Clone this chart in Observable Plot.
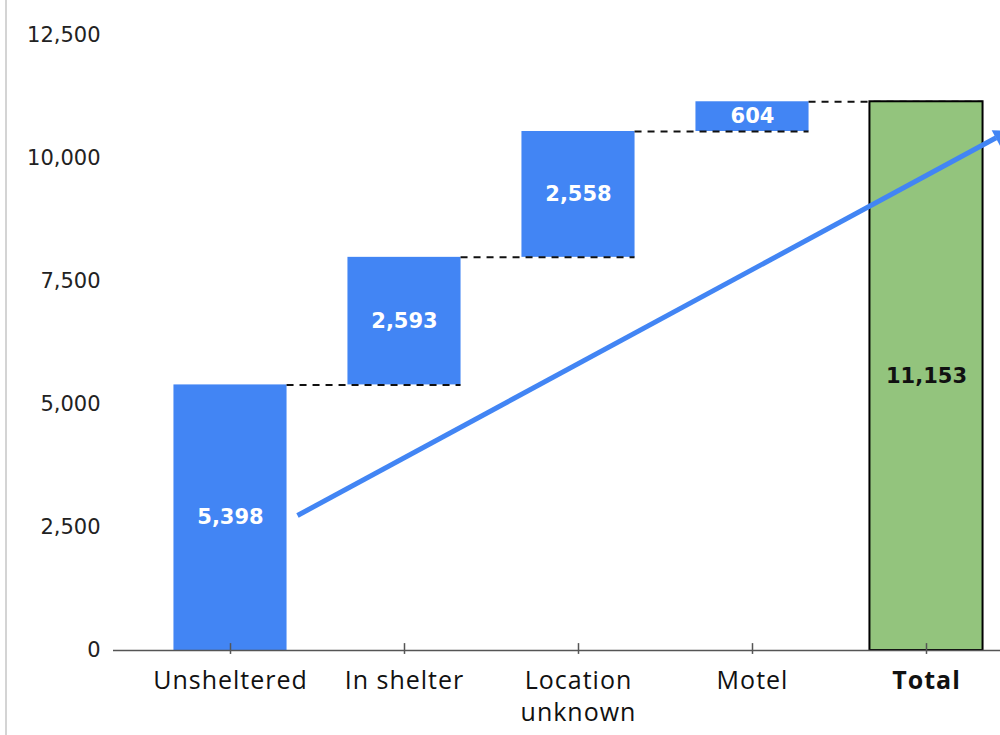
<!DOCTYPE html>
<html><head><meta charset="utf-8">
<script src="https://cdn.jsdelivr.net/npm/d3@7"></script>
<script src="https://cdn.jsdelivr.net/npm/@observablehq/plot@0.6"></script>
<style>
html,body{margin:0;padding:0;background:#fff;overflow:hidden;}
#wrap{position:relative;width:1000px;height:735px;}
#wrap::before{content:"";position:absolute;left:5px;top:0;bottom:0;width:2px;background:#d4d4d4;}
</style></head><body><div id="wrap"></div>
<script>
// Data
const categories = ["Unsheltered", "In shelter", "Location\nunknown", "Motel", "Total"];
const values = [5398, 2593, 2558, 604];
const totalValue = 11153;
const yTicks = [0, 2500, 5000, 7500, 10000, 12500];
// trend arrow annotation (data coordinates: category index, value)
const trendStart = {x: 0.385, y: 2744};
const trendEnd = {x: 4.40, y: 10421};
const trendHead = {x: 4.424, y: 10467};

const fmt = d3.format(",");
let cum = 0;
const steps = values.map((v, i) => {
  const d = {i, cat: categories[i], y1: cum, y2: cum + v, v};
  cum += v;
  return d;
});
const totalRow = {i: 4, cat: categories[4], y1: 0, y2: totalValue, v: totalValue};
const half = 0.325;
const labelRows = categories.map((c, i) => ({i, c}));

const blue = "#4285F4";
const chart = Plot.plot({
  width: 1000,
  height: 735,
  marginLeft: 113,
  marginRight: 0,
  marginTop: 35,
  marginBottom: 85,
  style: {background: "transparent", overflow: "visible"},
  x: {type: "linear", domain: [-0.6724, 4.4253], axis: null},
  y: {domain: [0, 12500], axis: null},
  marks: [
    Plot.axisY({ticks: yTicks, tickSize: 0, tickPadding: 13, tickFormat: fmt,
      fontSize: 21, fontFamily: "DejaVu Sans", fill: "#222", label: null}),
    Plot.rectY(steps, {x1: d => d.i - half, x2: d => d.i + half, y1: "y1", y2: "y2", fill: blue}),
    Plot.ruleY(steps, {y: "y2", x1: d => d.i + half, x2: d => d.i + 1 + half,
      stroke: "#111", strokeWidth: 2, strokeDasharray: "7,6"}),
    Plot.rectY([totalRow], {x1: d => d.i - half, x2: d => d.i + half, y1: "y1", y2: "y2",
      fill: "#93C47D", stroke: "#000", strokeWidth: 2}),
    Plot.ruleY([0], {stroke: "#555", strokeWidth: 1.5}),
    Plot.ruleX(labelRows, {x: "i", y1: -80, y2: 140, stroke: "#555", strokeWidth: 1.5}),
    Plot.text(labelRows.filter(d => d.i < 4), {x: "i", y: 0, text: "c", lineAnchor: "top", dy: 15,
      fontSize: 25, fontFamily: "Open Sans", lineHeight: 1.3, fill: "#111"}),
    Plot.text(labelRows.filter(d => d.i === 4), {x: "i", y: 0, text: "c", lineAnchor: "top", dy: 21,
      fontSize: 25, fontFamily: "Open Sans", fontWeight: "bold", fill: "#111"}),
    Plot.text(steps, {x: "i", y: d => (d.y1 + d.y2) / 2, text: d => fmt(d.v),
      fill: "white", fontWeight: "bold", fontSize: 21, fontFamily: "DejaVu Sans"}),
    Plot.text([totalRow], {x: "i", y: d => (d.y1 + d.y2) / 2, text: d => fmt(d.v),
      fill: "#111", fontWeight: "bold", fontSize: 21, fontFamily: "DejaVu Sans"}),
    Plot.link([{s: trendStart, e: trendEnd}], {x1: d => d.s.x, y1: d => d.s.y, x2: d => d.e.x, y2: d => d.e.y,
      stroke: blue, strokeWidth: 5}),
    Plot.dot([trendHead], {x: "x", y: "y", symbol: "triangle", r: 6.5, fill: blue, stroke: "none", rotate: 61.6})
  ]
});
// widen category labels slightly to match the reference's wide geometric face
d3.select(chart).selectAll("text").filter(function() {
  return this.getAttribute("font-family") === "Open Sans" || (this.parentNode && this.parentNode.getAttribute && this.parentNode.getAttribute("font-family") === "Open Sans");
}).attr("letter-spacing", "1px").style("letter-spacing", "1px");
d3.select(chart).selectAll("g[font-family='Open Sans'] text, g[font-family='Open Sans'] tspan").style("letter-spacing", "1px");
document.getElementById("wrap").appendChild(chart);
</script>
</body></html>
